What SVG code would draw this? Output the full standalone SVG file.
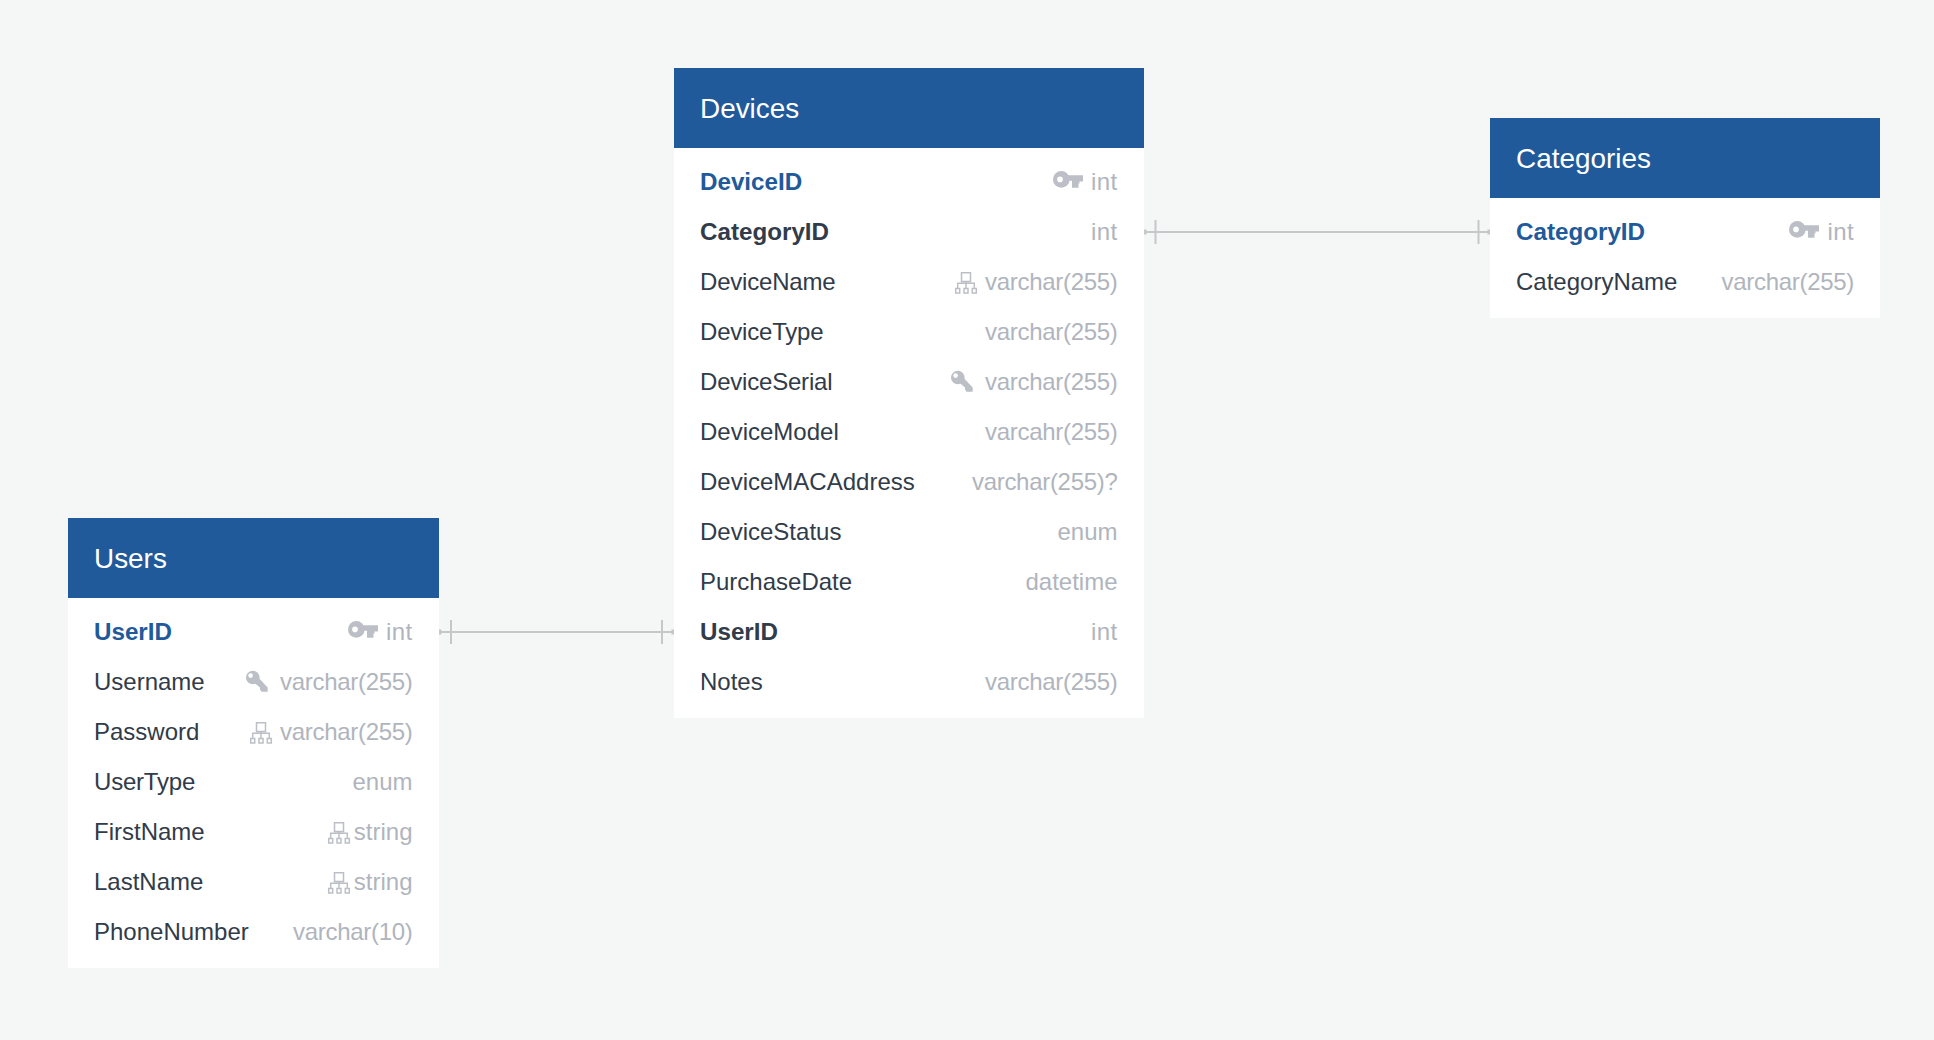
<svg xmlns="http://www.w3.org/2000/svg" width="1934" height="1040" viewBox="0 0 1934 1040">
<style>
text{font-family:"Liberation Sans",Arial,sans-serif}
.h{fill:#fff;font-size:27.9px}
.n{fill:#313b49;font-size:24px}
.b{font-weight:700;font-size:24.2px}
.pk{fill:#205a9a;font-weight:700;font-size:24.2px}
.t{fill:#b0b5bd;font-size:24px;text-anchor:end}
.v{letter-spacing:-.3px}
.i{letter-spacing:.4px}
.k{letter-spacing:-.2px}
.hd{fill:#205a9a}
.bd{fill:#fff}
.c{stroke:#c4c8c8;stroke-width:2;fill:none}
.ic{fill:#bcc0c6}
.tr{fill:none;stroke:#bcc0c6;stroke-width:1.500}
</style>
<defs>
<g id="pk"><circle class="ic" cx="8.300" cy="-.6" r="8.300"/><path class="ic" d="M12 -4.700H30V1.500H26.500V3.500H25.500V7.700H19V.7H12Z"/><circle cx="7" cy="-.6" r="2.800" fill="#fff"/></g>
<g id="key"><circle class="ic" cx="6.800" cy="-3.500" r="6.800"/><path class="ic" d="M9 -7L21.700 6.500V10.700H15.500L14 8.500V6.500L4 -2Z"/><circle cx="4.600" cy="-5.400" r="2.300" fill="#fff"/></g>
<g id="idx"><path class="tr" d="M6.500 -10.200h9v8.600h-9zM11 -1.600V.3M2.700 5.300V.3H19.300V5.300M11 .3V5.300M.7 5.500h4v4.400h-4zM9 5.500h4v4.400h-4zM17.300 5.500h4v4.400h-4z"/></g>
</defs>
<rect width="1934" height="1040" fill="#f5f7f7"/>
<g id="connectors">
<path class="c" d="M1144 232H1490M1155.500 220V244M1478.500 220V244M439 632H674M451 620V644M662 620V644"/>
<path d="M1144 229.500h2.500v5h-2.500zM439 629.500h2.500v5h-2.500zM671.500 629.500h2.500v5h-2.500zM1487.500 229.500h2.500v5h-2.500z" fill="#c4c8c8"/>
</g>
<g id="devices">
<rect class="bd" x="674" y="68" width="470" height="650"/>
<rect class="hd" x="674" y="68" width="470" height="80"/>
<text class="h" x="700" y="118">Devices</text>
<text class="pk" x="700" y="190">DeviceID</text>
<use href="#pk" x="1053" y="180"/><text class="t i" x="1117.500" y="190">int</text>
<text class="n b" x="700" y="240">CategoryID</text><text class="t i" x="1117.500" y="240">int</text>
<text class="n k" x="700" y="290">DeviceName</text><use href="#idx" x="955" y="283"/><text class="t v" x="1117.500" y="290">varchar(255)</text>
<text class="n k" x="700" y="340">DeviceType</text><text class="t v" x="1117.500" y="340">varchar(255)</text>
<text class="n k" x="700" y="390">DeviceSerial</text><use href="#key" x="951" y="381"/><text class="t v" x="1117.500" y="390">varchar(255)</text>
<text class="n" x="700" y="440">DeviceModel</text><text class="t v" x="1117.500" y="440">varcahr(255)</text>
<text class="n" x="700" y="490">DeviceMACAddress</text><text class="t v" x="1117.500" y="490">varchar(255)?</text>
<text class="n" x="700" y="540">DeviceStatus</text><text class="t" x="1117.500" y="540">enum</text>
<text class="n" x="700" y="590">PurchaseDate</text><text class="t" x="1117.500" y="590">datetime</text>
<text class="n b" x="700" y="640">UserID</text><text class="t i" x="1117.500" y="640">int</text>
<text class="n" x="700" y="690">Notes</text><text class="t v" x="1117.500" y="690">varchar(255)</text>
</g>
<g id="categories">
<rect class="bd" x="1490" y="118" width="390" height="200"/>
<rect class="hd" x="1490" y="118" width="390" height="80"/>
<text class="h" x="1516" y="168">Categories</text>
<text class="pk" x="1516" y="240">CategoryID</text><use href="#pk" x="1789" y="230"/><text class="t i" x="1854" y="240">int</text>
<text class="n" x="1516" y="290">CategoryName</text><text class="t v" x="1854" y="290">varchar(255)</text>
</g>
<g id="users">
<rect class="bd" x="68" y="518" width="371" height="450"/>
<rect class="hd" x="68" y="518" width="371" height="80"/>
<text class="h" x="94" y="568">Users</text>
<text class="pk" x="94" y="640">UserID</text><use href="#pk" x="348" y="630"/><text class="t i" x="412.500" y="640">int</text>
<text class="n" x="94" y="690">Username</text><use href="#key" x="246" y="681"/><text class="t v" x="412.500" y="690">varchar(255)</text>
<text class="n" x="94" y="740">Password</text><use href="#idx" x="250" y="733"/><text class="t v" x="412.500" y="740">varchar(255)</text>
<text class="n k" x="94" y="790">UserType</text><text class="t" x="412.500" y="790">enum</text>
<text class="n" x="94" y="840">FirstName</text><use href="#idx" x="328" y="833"/><text class="t" x="412.500" y="840">string</text>
<text class="n" x="94" y="890">LastName</text><use href="#idx" x="328" y="883"/><text class="t" x="412.500" y="890">string</text>
<text class="n" x="94" y="940">PhoneNumber</text><text class="t v" x="412.500" y="940">varchar(10)</text>
</g>
</svg>
